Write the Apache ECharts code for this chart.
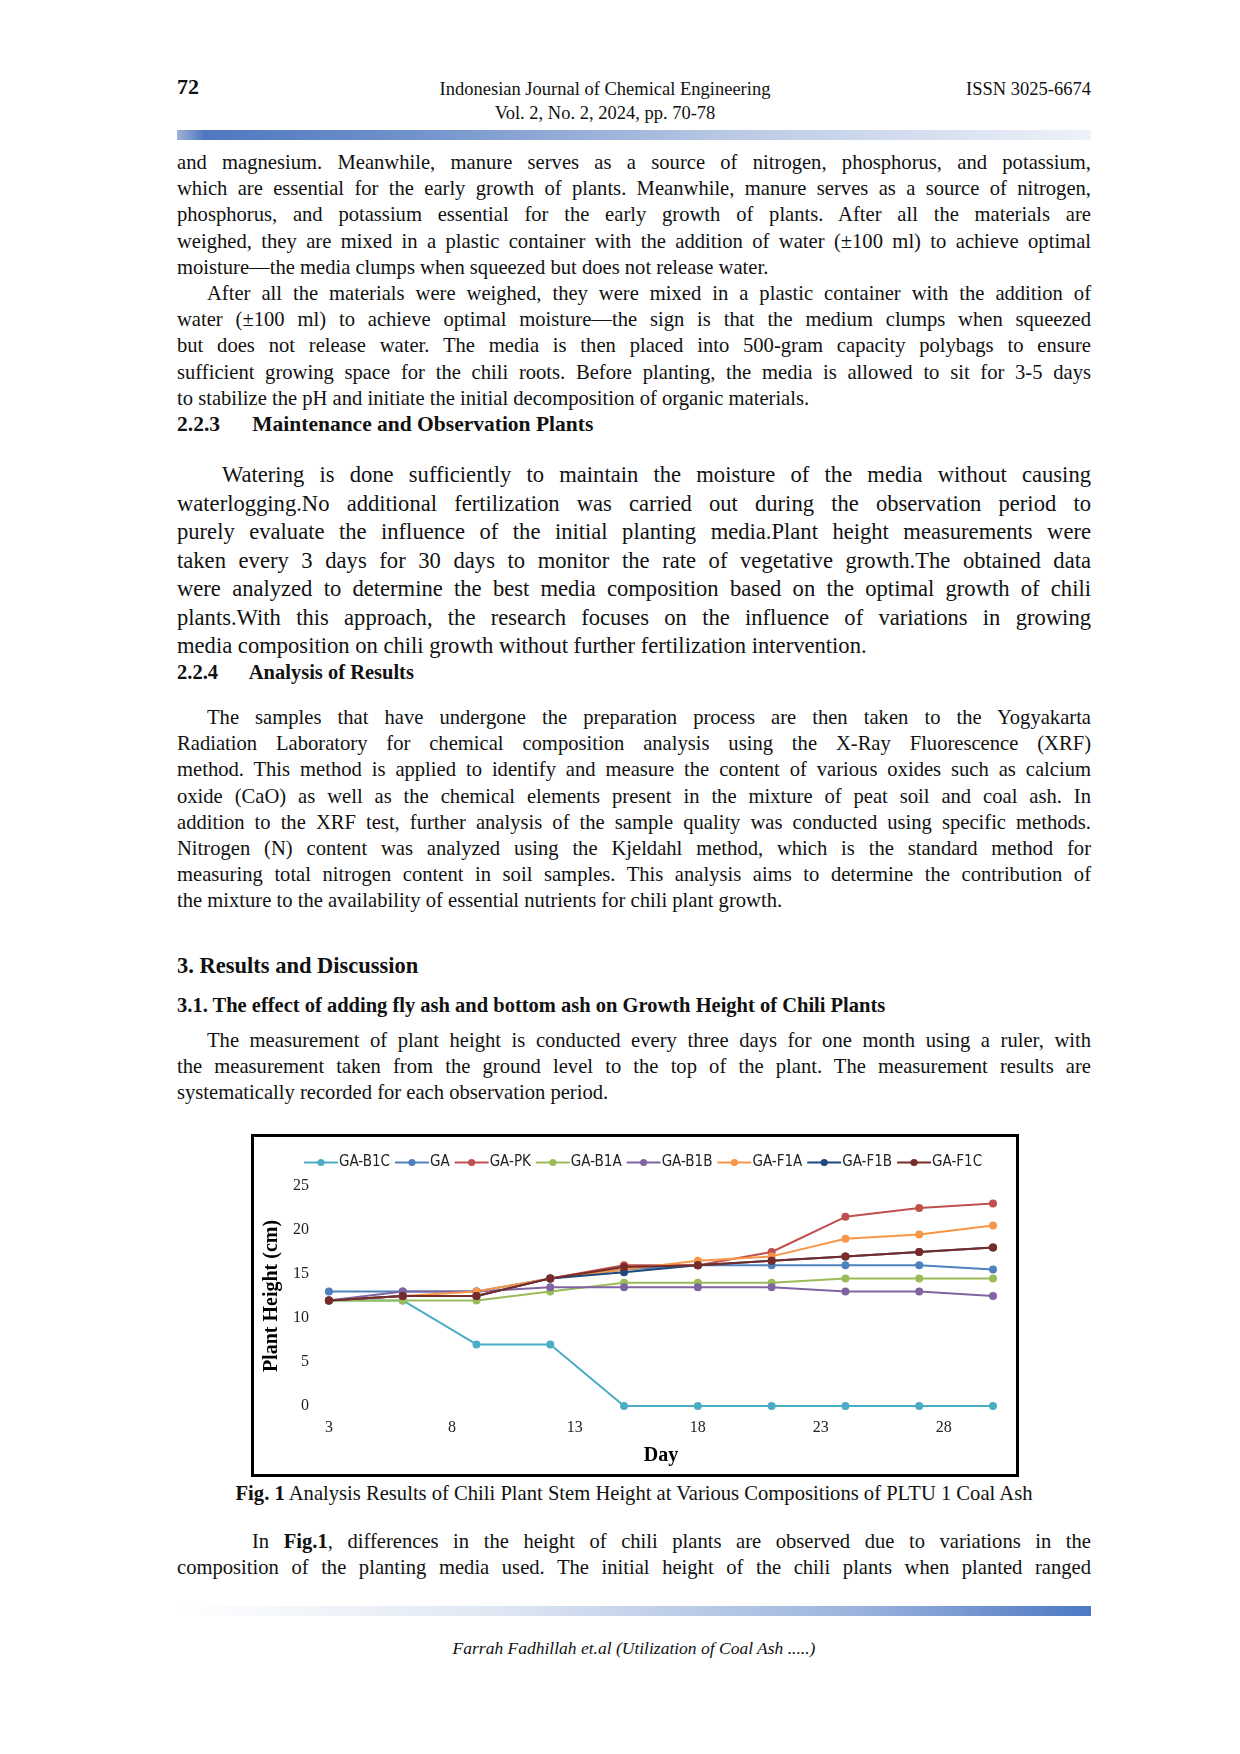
<!DOCTYPE html>
<html lang="en">
<head>
<meta charset="UTF-8">
<title>Plant height chart</title>
<script src="https://cdn.jsdelivr.net/npm/echarts@6/dist/echarts.min.js"></script>
<style>
  body { margin:0; background:#fff; font-family:"Liberation Serif","Times New Roman",serif; color:#111; }
  #page { position:relative; width:1240px; height:1754px; }
  .abs { position:absolute; }
  .blk { position:absolute; left:177px; width:914px; font-size:20.6px; }
  .ln { height:26.2px; line-height:26.2px; white-space:nowrap; text-align:justify; text-align-last:justify; }
  .ln.end { text-align-last:left; }
  .big .ln { height:28.5px; line-height:28.5px; font-size:22.6px; }
  .h { position:absolute; left:177px; font-weight:bold; font-size:21.5px; }
  .bar { position:absolute; left:177px; width:914px; height:10px;
         background:linear-gradient(to right,#9fb3d6 0%,#4f78c0 3%,#6f91cb 25%,#b9c8e4 60%,#eef2f9 100%); }
  .bar2 { background:linear-gradient(to right,#ffffff 0%,#dfe7f3 35%,#9ab3dd 75%,#4c78c3 100%); }
  #chart { position:absolute; left:251px; top:1134px; width:762px; height:337px; border:3px solid #000; }
</style>
</head>
<body>
<div id="page">
  <div class="abs" style="left:177px;top:74px;font-size:22px;font-weight:bold;">72</div>
  <div class="abs" style="left:390px;width:430px;top:77px;text-align:center;font-size:18.5px;line-height:24px;">Indonesian Journal of Chemical Engineering<br>Vol. 2, No. 2, 2024, pp. 70-78</div>
  <div class="abs" style="left:966px;top:79px;font-size:18.5px;">ISSN 3025-6674</div>
  <div class="bar" style="top:130px;"></div>

  <div class="blk" style="top:149px;">
    <div class="ln">and magnesium. Meanwhile, manure serves as a source of nitrogen, phosphorus, and potassium,</div>
    <div class="ln">which are essential for the early growth of plants. Meanwhile, manure serves as a source of nitrogen,</div>
    <div class="ln">phosphorus, and potassium essential for the early growth of plants. After all the materials are</div>
    <div class="ln">weighed, they are mixed in a plastic container with the addition of water (±100 ml) to achieve optimal</div>
    <div class="ln end">moisture—the media clumps when squeezed but does not release water.</div>
    <div class="ln" style="text-indent:30px;">After all the materials were weighed, they were mixed in a plastic container with the addition of</div>
    <div class="ln">water (±100 ml) to achieve optimal moisture—the sign is that the medium clumps when squeezed</div>
    <div class="ln">but does not release water. The media is then placed into 500-gram capacity polybags to ensure</div>
    <div class="ln">sufficient growing space for the chili roots. Before planting, the media is allowed to sit for 3-5 days</div>
    <div class="ln end">to stabilize the pH and initiate the initial decomposition of organic materials.</div>
  </div>
  <div class="h" style="top:412px;">2.2.3&nbsp;&nbsp;&nbsp;&nbsp;&nbsp;&nbsp;Maintenance and Observation Plants</div>

  <div class="blk big" style="top:461px;">
    <div class="ln" style="text-indent:45px;">Watering is done sufficiently to maintain the moisture of the media without causing</div>
    <div class="ln">waterlogging.No additional fertilization was carried out during the observation period to</div>
    <div class="ln">purely evaluate the influence of the initial planting media.Plant height measurements were</div>
    <div class="ln">taken every 3 days for 30 days to monitor the rate of vegetative growth.The obtained data</div>
    <div class="ln">were analyzed to determine the best media composition based on the optimal growth of chili</div>
    <div class="ln">plants.With this approach, the research focuses on the influence of variations in growing</div>
    <div class="ln end">media composition on chili growth without further fertilization intervention.</div>
  </div>
  <div class="h" style="top:661px;font-size:20.5px;">2.2.4&nbsp;&nbsp;&nbsp;&nbsp;&nbsp;&nbsp;Analysis of Results</div>

  <div class="blk" style="top:704px;">
    <div class="ln" style="text-indent:30px;">The samples that have undergone the preparation process are then taken to the Yogyakarta</div>
    <div class="ln">Radiation Laboratory for chemical composition analysis using the X-Ray Fluorescence (XRF)</div>
    <div class="ln">method. This method is applied to identify and measure the content of various oxides such as calcium</div>
    <div class="ln">oxide (CaO) as well as the chemical elements present in the mixture of peat soil and coal ash. In</div>
    <div class="ln">addition to the XRF test, further analysis of the sample quality was conducted using specific methods.</div>
    <div class="ln">Nitrogen (N) content was analyzed using the Kjeldahl method, which is the standard method for</div>
    <div class="ln">measuring total nitrogen content in soil samples. This analysis aims to determine the contribution of</div>
    <div class="ln end">the mixture to the availability of essential nutrients for chili plant growth.</div>
  </div>

  <div class="h" style="top:953px;font-size:22.5px;">3. Results and Discussion</div>
  <div class="h" style="top:994px;font-size:20.5px;">3.1. The effect of adding fly ash and bottom ash on Growth Height of Chili Plants</div>
  <div class="blk" style="top:1027px;">
    <div class="ln" style="text-indent:30px;">The measurement of plant height is conducted every three days for one month using a ruler, with</div>
    <div class="ln">the measurement taken from the ground level to the top of the plant. The measurement results are</div>
    <div class="ln end">systematically recorded for each observation period.</div>
  </div>

  <div id="chart"></div>

  <div class="abs" style="left:177px;width:914px;top:1482px;text-align:center;font-size:20.6px;"><b>Fig. 1</b> Analysis Results of Chili Plant Stem Height at Various Compositions of PLTU 1 Coal Ash</div>

  <div class="blk" style="top:1528px;">
    <div class="ln" style="text-indent:75px;">In <b>Fig.1</b>, differences in the height of chili plants are observed due to variations in the</div>
    <div class="ln">composition of the planting media used. The initial height of the chili plants when planted ranged</div>
  </div>
  <div class="bar bar2" style="top:1606px;"></div>
  <div class="abs" style="left:177px;width:914px;top:1638px;text-align:center;font-size:17.5px;font-style:italic;">Farrah Fadhillah et.al (Utilization of Coal Ash .....)</div>
</div>

<script>
  // hari pengamatan dan tinggi tanaman (cm)
  var days = [3, 6, 9, 12, 15, 18, 21, 24, 27, 30];
  var seriesNames = ['GA-B1C', 'GA', 'GA-PK', 'GA-B1A', 'GA-B1B', 'GA-F1A', 'GA-F1B', 'GA-F1C'];
  var gaB1C = [12, 12, 7, 7, 0, 0, 0, 0, 0, 0];
  var ga    = [13, 13, 13, 14.5, 15.5, 16, 16, 16, 16, 15.5];
  var gaPK  = [12, 12.5, 12.5, 14.5, 16, 16, 17.5, 21.5, 22.5, 23];
  var gaB1A = [12, 12, 12, 13, 14, 14, 14, 14.5, 14.5, 14.5];
  var gaB1B = [12, 13, 13, 13.5, 13.5, 13.5, 13.5, 13, 13, 12.5];
  var gaF1A = [12, 12.5, 13, 14.5, 15.5, 16.5, 17, 19, 19.5, 20.5];
  var gaF1B = [12, 12.5, 12.5, 14.5, 15.2, 16, 16.5, 17, 17.5, 18];
  var gaF1C = [12, 12.5, 12.5, 14.5, 15.8, 16, 16.5, 17, 17.5, 18];
  var colors = ['#4bacc6', '#4f81bd', '#c0504d', '#9bbb59', '#8064a2', '#f79646', '#1f497d', '#772c2a'];
  var allValues = [gaB1C, ga, gaPK, gaB1A, gaB1B, gaF1A, gaF1B, gaF1C];

  var chart = echarts.init(document.getElementById('chart'));
  var series = seriesNames.map(function (name, i) {
    return {
      name: name, type: 'line', symbol: 'circle', symbolSize: 8,
      lineStyle: { width: 2, color: colors[i] },
      itemStyle: { color: colors[i] },
      data: days.map(function (d, k) { return [d, allValues[i][k]]; })
    };
  });
  chart.setOption({
    animation: false,
    textStyle: { fontFamily: 'Liberation Serif' },
    legend: {
      top: 13, left: 44, itemGap: 4, itemWidth: 34, itemHeight: 9,
      textStyle: { fontSize: 15, color: '#222', fontFamily: 'DejaVu Sans Condensed, Liberation Sans', padding: [0, 0, 0, -4] },
      data: seriesNames
    },
    grid: { left: 68, right: 23, top: 49, bottom: 68 },
    xAxis: {
      type: 'value', min: 3, max: 30, interval: 5,
      name: 'Day', nameLocation: 'middle', nameGap: 40,
      nameTextStyle: { fontSize: 20, fontWeight: 'bold', color: '#000' },
      axisLine: { show: false }, axisTick: { show: false }, splitLine: { show: false },
      axisLabel: { fontSize: 16, color: '#222', margin: 14, showMaxLabel: false }
    },
    yAxis: {
      type: 'value', min: 0, max: 25, interval: 5,
      name: 'Plant Height (cm)', nameLocation: 'middle', nameGap: 42,
      nameTextStyle: { fontSize: 20, fontWeight: 'bold', color: '#000' },
      axisLine: { show: false }, axisTick: { show: false }, splitLine: { show: false },
      axisLabel: { fontSize: 16, color: '#222', margin: 20 }
    },
    series: series
  });
</script>
</body>
</html>
